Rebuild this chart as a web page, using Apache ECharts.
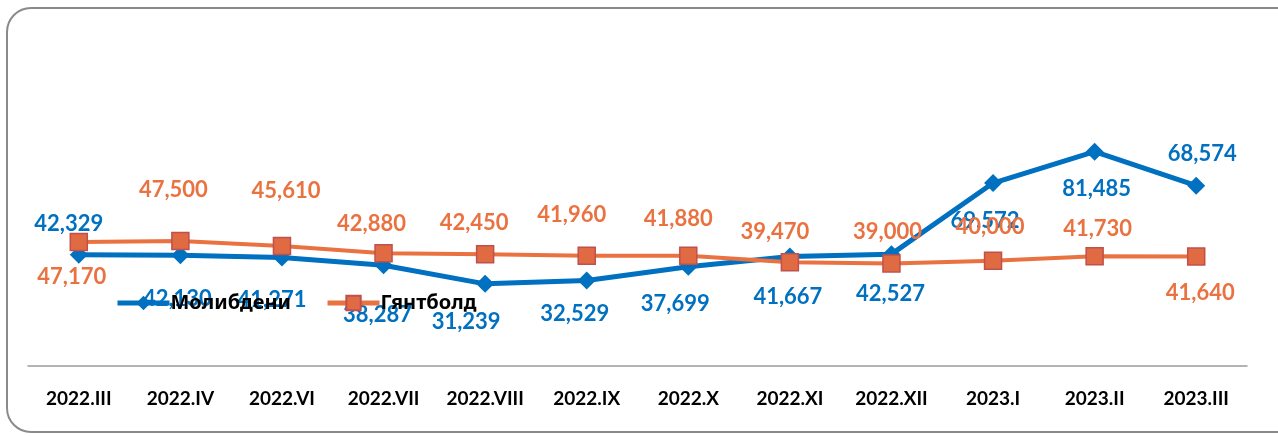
<!DOCTYPE html>
<html>
<head>
<meta charset="utf-8">
<script src="https://cdn.jsdelivr.net/npm/echarts@6/dist/echarts.min.js"></script>
<style>
    html, body { margin: 0; padding: 0; background: #fff; }
    #chart { width: 1278px; height: 436px; }
</style>
</head>
<body>
<div id="chart"></div>
<script>
    // сар
    const months = ["2022.III", "2022.IV", "2022.VI", "2022.VII", "2022.VIII", "2022.IX",
                    "2022.X", "2022.XI", "2022.XII", "2023.I", "2023.II", "2023.III"];
    // үнэ
    const molibdeni = [42329, 42130, 41271, 38287, 31239, 32529, 37699, 41667, 42527, 69572, 81485, 68574];
    const gyantbold = [47170, 47500, 45610, 42880, 42450, 41960, 41880, 39470, 39000, 40000, 41730, 41640];
    const seriesNames = ["Молибдени", "Гянтболд"];

    // label nudges from the marker centre (px), as placed in the original
    const blueShift = [[-10, -31], [-3, 44], [-10, 42], [-6, 50], [-19, 38], [-12, 33],
                       [-13, 37], [-2, 40], [-1, 40], [-8, 38], [2, 37], [6, -32]];
    const orangeShift = [[-7, 35], [-7, -51], [4, -55], [-12, -29], [-11, -31], [-15, -41],
                         [-10, -37], [-15, -30], [-4, -32], [-3, -34], [3, -27], [4, 36]];

    const blue = "#0070C0";
    const orange = "#EA7240";
    const font = 'Lato, "Noto Sans", sans-serif';

    const fmt = v => v.toLocaleString("en-US");
    const withShift = (vals, shift) => vals.map((v, i) => ({ value: v, label: { offset: shift[i] } }));

    const chart = echarts.init(document.getElementById("chart"));

    const option = {
        animation: false,
        backgroundColor: "#fff",
        graphic: [{
            type: "rect",
            silent: true,
            z: -10,
            shape: { x: 7, y: 8, width: 1295, height: 424, r: 24 },
            style: { fill: "none", stroke: "#8a8a8a", lineWidth: 2 }
        }],
        legend: {
            left: 110,
            top: 288,
            itemWidth: 52,
            itemHeight: 18,
            itemGap: 34,
            lineStyle: { width: 5 },
            textStyle: { fontFamily: '"Noto Sans", sans-serif', fontSize: 20, fontWeight: "bold", color: "#000", padding: [0, 0, 0, -4] },
            data: seriesNames
        },
        grid: {
            left: 28,
            right: 31,
            top: 103,
            bottom: 70
        },
        xAxis: {
            type: "category",
            data: months,
            axisLine: { lineStyle: { color: "#9a9a9a", width: 1.5 } },
            axisTick: { show: false },
            axisLabel: {
                interval: 0,
                margin: 23,
                fontFamily: font,
                fontSize: 19,
                fontWeight: "bold",
                color: "#000"
            }
        },
        yAxis: {
            type: "value",
            min: 0,
            max: 100000,
            show: false,
            splitLine: { show: false }
        },
        series: [
            {
                name: seriesNames[0],
                type: "line",
                data: withShift(molibdeni, blueShift),
                symbol: "diamond",
                symbolSize: 18,
                color: blue,
                lineStyle: { color: blue, width: 5 },
                itemStyle: { color: blue },
                label: {
                    show: true,
                    position: "inside",
                    formatter: p => fmt(p.value),
                    fontFamily: font,
                    fontSize: 22,
                    fontWeight: "bold",
                    color: blue
                }
            },
            {
                name: seriesNames[1],
                type: "line",
                data: withShift(gyantbold, orangeShift),
                symbol: "rect",
                symbolSize: 17,
                color: orange,
                lineStyle: { color: orange, width: 4 },
                itemStyle: { color: "#E06A42", borderColor: "#C0504D", borderWidth: 1.5 },
                label: {
                    show: true,
                    position: "inside",
                    formatter: p => fmt(p.value),
                    fontFamily: font,
                    fontSize: 22,
                    fontWeight: "bold",
                    color: orange
                }
            }
        ]
    };

    chart.setOption(option);
</script>
</body>
</html>
